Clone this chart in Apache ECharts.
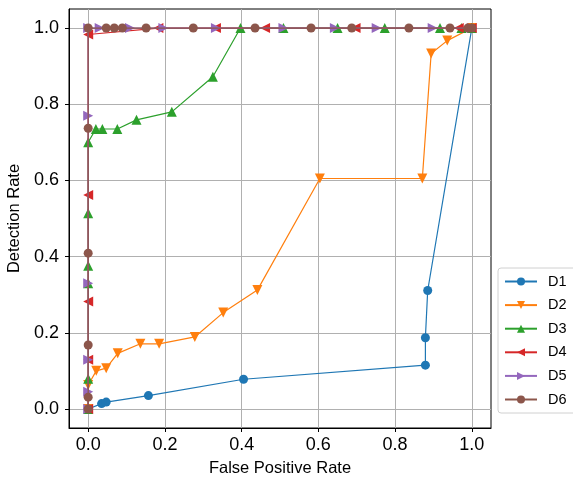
<!DOCTYPE html>
<html><head><meta charset="utf-8">
<script src="https://cdn.jsdelivr.net/npm/echarts@6/dist/echarts.min.js"></script>
<style>html,body{margin:0;padding:0;background:#fff}#c{width:573px;height:480px}</style>
</head><body><div id="c"></div>
<script>
const seriesNames = ['D1','D2','D3','D4','D5','D6'];
const tickValues = [0, 0.2, 0.4, 0.6, 0.8, 1.0];
const d1x = [0, 0.035, 0.047, 0.157, 0.405, 0.879, 0.879, 0.885, 1.0];
const d1y = [0, 0.014, 0.018, 0.035, 0.078, 0.115, 0.187, 0.311, 1.0];
const d2x = [0, 0, 0.021, 0.047, 0.077, 0.136, 0.185, 0.278, 0.352, 0.441, 0.604, 0.871, 0.894, 0.936, 1.0];
const d2y = [0, 0.063, 0.1, 0.107, 0.146, 0.171, 0.171, 0.189, 0.253, 0.312, 0.605, 0.605, 0.933, 0.967, 1.0];
const d3x = [0, 0, 0, 0, 0, 0, 0.02, 0.037, 0.076, 0.126, 0.218, 0.325, 0.397, 0.509, 0.65, 0.773, 0.917, 0.973, 1.0];
const d3y = [0, 0.079, 0.33, 0.376, 0.514, 0.7, 0.735, 0.735, 0.735, 0.759, 0.78, 0.872, 1.0, 1.0, 1.0, 1.0, 1.0, 1.0, 1.0];
const d4x = [0, 0, 0, 0, 0, 0.183, 0.333, 0.461, 0.697, 0.966, 1.0];
const d4y = [0, 0.129, 0.282, 0.562, 0.983, 1.0, 1.0, 1.0, 1.0, 1.0, 1.0];
const d5x = [0, 0, 0, 0, 0, 0, 0.03, 0.109, 0.196, 0.333, 0.509, 0.643, 0.752, 0.898, 1.0];
const d5y = [0, 0.045, 0.129, 0.33, 0.77, 1.0, 1.0, 1.0, 1.0, 1.0, 1.0, 1.0, 1.0, 1.0, 1.0];
const d6x = [0, 0, 0, 0, 0, 0, 0.047, 0.068, 0.089, 0.151, 0.274, 0.435, 0.581, 0.687, 0.836, 0.943, 0.99, 1.0];
const d6y = [0, 0.031, 0.168, 0.409, 0.737, 1.0, 1.0, 1.0, 1.0, 1.0, 1.0, 1.0, 1.0, 1.0, 1.0, 1.0, 1.0, 1.0];

const xs = [d1x, d2x, d3x, d4x, d5x, d6x];
const ys = [d1y, d2y, d3y, d4y, d5y, d6y];
const colors = ['#1f77b4','#ff7f0e','#2ca02c','#d62728','#9467bd','#8c564b'];
const symbols = ['circle','path://M0,0 L10,0 L5,9 Z','path://M5,0 L10,9 L0,9 Z','path://M0,5 L9,0 L9,10 Z','path://M0,0 L9,5 L0,10 Z','circle'];
const sizes = [9, 10, 10, 10, 10, 9];

const font = 'Liberation Sans, Arial, sans-serif';
const chart = echarts.init(document.getElementById('c'));
const series = seriesNames.map((n, i) => ({
  name: n, type: 'line',
  data: xs[i].map((x, k) => [x, ys[i][k]]),
  symbol: symbols[i], symbolSize: sizes[i], showAllSymbol: true,
  lineStyle: {color: colors[i], width: 1.2},
  itemStyle: {color: colors[i], borderWidth: 0},
  z: 2 + i, animation: false
}));
chart.setOption({
  animation: false,
  grid: {left: 69, right: 82, top: 9, bottom: 52, containLabel: false, outerBoundsMode: 'none',
         show: true, borderColor: '#000', borderWidth: 1, backgroundColor: 'transparent'},
  xAxis: {
    type: 'value', min: -0.05, max: 1.05,
    name: 'False Positive Rate', nameLocation: 'middle', nameGap: 32,
    nameTextStyle: {fontFamily: font, fontSize: 16.5, color: '#000'},
    axisLine: {show: true, onZero: false, lineStyle: {color: '#000'}},
    axisTick: {show: true, length: 4, lineStyle: {color: '#000'}, customValues: tickValues},
    axisLabel: {fontFamily: font, fontSize: 18, color: '#000', margin: 8, customValues: tickValues, formatter: v => v.toFixed(1)},
    splitLine: {show: true, lineStyle: {color: '#b0b0b0', width: 1}}
  },
  yAxis: {
    type: 'value', min: -0.05, max: 1.05,
    name: 'Detection Rate', nameLocation: 'middle', nameGap: 44,
    nameTextStyle: {fontFamily: font, fontSize: 16.5, color: '#000'},
    axisLine: {show: true, onZero: false, lineStyle: {color: '#000'}},
    axisTick: {show: true, length: 4, lineStyle: {color: '#000'}, customValues: tickValues},
    axisLabel: {fontFamily: font, fontSize: 18, color: '#000', margin: 10, customValues: tickValues, formatter: v => v.toFixed(1)},
    splitLine: {show: true, lineStyle: {color: '#b0b0b0', width: 1}}
  },
  legend: {
    data: seriesNames, orient: 'vertical', left: 498, top: 268,
    itemWidth: 32, itemHeight: 10, itemGap: 8.6,
    padding: [6, 20, 6, 6],
    borderColor: '#d0d0d0', borderWidth: 1, borderRadius: 3, backgroundColor: '#fff',
    textStyle: {fontFamily: font, fontSize: 14.5, color: '#000', padding: [0, 0, 0, 6]}
  },
  series: series
});
</script></body></html>
